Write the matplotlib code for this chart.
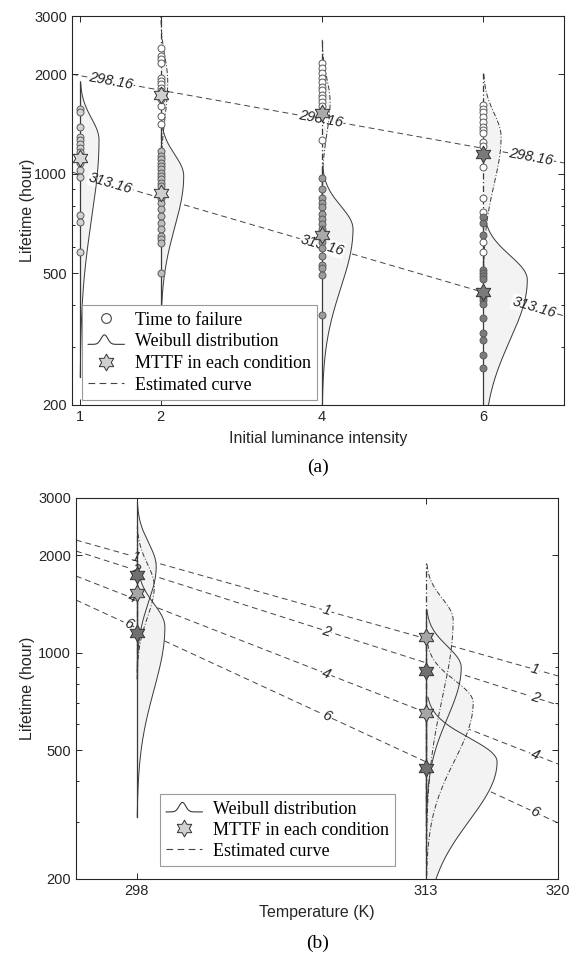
import numpy as np
import matplotlib
matplotlib.use("Agg")
import matplotlib.pyplot as plt
from matplotlib.path import Path
from matplotlib.lines import Line2D
from matplotlib.legend_handler import HandlerBase
from matplotlib.ticker import FixedLocator, FixedFormatter, NullFormatter

# ---------------- data: panel (a) ----------------
intensity_ticks = [1, 2, 4, 6]
ttf_I1_313 = [1570, 1540, 1390, 1290, 1265, 1230, 1200, 1165, 1080, 1025, 975, 750, 715, 580]
ttf_I2_298 = [2400, 2270, 2222, 2162, 1950, 1908, 1869, 1817, 1779, 1683, 1604, 1496, 1416]
ttf_I2_313 = [1171, 1131, 1107, 1077, 1054, 1032, 1004, 983, 963, 936, 917, 844, 816,
              782, 745, 710, 681, 649, 635, 618, 501]
ttf_I4_298 = [2162, 2087, 2016, 1950, 1895, 1830, 1790, 1729, 1694, 1647, 1604, 1265]
ttf_I4_313 = [970, 899, 844, 816, 793, 754, 729, 704, 681, 644, 622, 597, 564, 530, 519, 494, 374]
ttf_I6_298 = [1615, 1571, 1538, 1486, 1436, 1386, 1357, 1329, 1248, 1214, 1048, 844, 767, 622, 580]
ttf_I6_313 = [740, 710, 653, 512, 501, 491, 481, 424, 415, 404, 366, 330, 314, 283, 259]

mttf_a_I = [1, 2, 2, 4, 4, 6, 6]
mttf_a_L = [1117, 1731, 875, 1528, 653, 1150, 439]

# Weibull curves of panel (a): position, mode, peak height, lower/upper log-spread
dist_a_I = [1, 2, 4, 6, 2, 4, 6]
dist_a_temp = [313, 313, 313, 313, 298, 298, 298]
dist_a_mode = [1266, 985, 681, 478, 1900, 1650, 1293]
dist_a_peak = [0.235, 0.285, 0.384, 0.545, 0.087, 0.10, 0.22]
dist_a_slo = [0.55, 0.36, 0.41, 0.42, 0.25, 0.22, 0.33]
dist_a_shi = [0.15, 0.15, 0.16, 0.17, 0.17, 0.16, 0.165]

# estimated curves of panel (a)
curve_a_I = [0.9, 7.0]
curve_a_298 = [2000, 1079]
curve_a_313 = [1012, 372]

# ---------------- data: panel (b) ----------------
temp_ticks = [298.16, 313.16, 320]
temp_ticklabels = ["298", "313", "320"]
curve_b_T = [295, 320]
curve_b_labels = ["1", "2", "4", "6"]
curve_b_left = [2225, 2058, 1723, 1453]
curve_b_right = [847, 689, 453, 298]

dist_b_T = [313.16, 313.16, 313.16, 313.16, 298.16, 298.16, 298.16]
dist_b_I = [1, 2, 4, 6, 2, 4, 6]
dist_b_mode = [1262, 900, 700, 460, 1840, 1600, 1200]
dist_b_peak = [1.40, 1.82, 2.44, 3.68, 1.0, 0.9, 1.45]
dist_b_slo = [0.55, 0.36, 0.41, 0.42, 0.25, 0.22, 0.45]
dist_b_shi = [0.15, 0.15, 0.16, 0.17, 0.17, 0.16, 0.165]

mttf_b_T = [313.16, 313.16, 313.16, 313.16, 298.16, 298.16, 298.16]
mttf_b_L = [1117, 875, 653, 439, 1731, 1528, 1150]

ytick_vals = [200, 500, 1000, 2000, 3000]
yminor_vals = [300, 400, 600, 700, 800, 900]

# ---------------- style ----------------
SANS = "Liberation Sans"
SERIF = "Liberation Serif"
DARK = "#262626"
LINEC = "#3a3a3a"
FILLC = "#f3f3f3"
DASHDOT = (0, (5, 2, 1, 2))
DASHED = (0, (6, 4))

ang = np.pi / 2 + np.arange(12) * np.pi / 6
rad = np.where(np.arange(12) % 2 == 0, 1.0, 1 / np.sqrt(3))
verts = np.c_[rad * np.cos(ang), rad * np.sin(ang)]
verts = np.vstack([verts, verts[0]])
HEX = Path(verts, [Path.MOVETO] + [Path.LINETO] * 11 + [Path.CLOSEPOLY])

fig = plt.figure(figsize=(5.73, 9.57), dpi=100)
axA = fig.add_axes([72 / 573, 1 - 405 / 957, (564 - 72) / 573, (405 - 16) / 957])
axB = fig.add_axes([76 / 573, 1 - 879 / 957, (558 - 76) / 573, (879 - 498) / 957])


def style_axes(ax):
    ax.set_yscale("log")
    ax.set_ylim(200, 3000)
    ax.yaxis.set_major_locator(FixedLocator(ytick_vals))
    ax.yaxis.set_major_formatter(FixedFormatter([str(v) for v in ytick_vals]))
    ax.yaxis.set_minor_locator(FixedLocator(yminor_vals))
    ax.yaxis.set_minor_formatter(NullFormatter())
    ax.tick_params(which="both", direction="in", top=True, right=True, colors=DARK,
                   labelsize=10.5, width=0.7)
    ax.tick_params(which="major", length=4.5)
    ax.tick_params(which="minor", length=2.5)
    for lab in ax.get_xticklabels() + ax.get_yticklabels():
        lab.set_fontfamily(SANS)
    for sp in ax.spines.values():
        sp.set_color(DARK)
        sp.set_linewidth(0.8)
    ax.set_ylabel("Lifetime (hour)", fontsize=11.5, family=SANS, color=DARK, labelpad=4)


def draw_dist(ax, x0, mode, peak, slo, shi, ls):
    t_lo = max(mode * np.exp(-3.0 * slo), 200)
    t_hi = min(mode * np.exp(2.7 * shi), 3000)
    t = np.geomspace(t_lo, t_hi, 300)
    z = np.log(t / mode)
    s = np.where(z < 0, slo, shi)
    w = peak * np.exp(-0.5 * (z / s) ** 2)
    ax.fill_betweenx(t, x0, x0 + w, color=FILLC, lw=0, zorder=1.2)
    ax.plot(x0 + w, t, color=LINEC, lw=0.7, ls=ls, zorder=3)
    ax.plot([x0, x0], [t_lo, t_hi], color=LINEC, lw=0.9, ls=ls, zorder=3)


def inline_label(ax, xs, ys, x0, text):
    ly = np.exp(np.interp(x0, xs, np.log(ys)))
    p1 = ax.transData.transform((xs[0], ys[0]))
    p2 = ax.transData.transform((xs[-1], ys[-1]))
    a = np.degrees(np.arctan2(p2[1] - p1[1], p2[0] - p1[0]))
    ax.text(x0, ly, text, rotation=a, rotation_mode="anchor", ha="center", va="center",
            fontsize=10.5, style="italic", family=SANS, color="#222222", zorder=2,
            bbox=dict(fc="white", ec="none", pad=0.6))


# ---------------- panel (a) ----------------
style_axes(axA)
axA.set_xlim(0.9, 7.0)
axA.set_xticks(intensity_ticks)
axA.set_xticklabels([str(v) for v in intensity_ticks], family=SANS)
axA.set_xlabel("Initial luminance intensity", fontsize=11.5, family=SANS, color=DARK, labelpad=5)

for I, T, m, p, lo, hi in zip(dist_a_I, dist_a_temp, dist_a_mode, dist_a_peak, dist_a_slo, dist_a_shi):
    draw_dist(axA, I, m, p, lo, hi, "-" if T == 313 else DASHDOT)

axA.plot(curve_a_I, curve_a_298, color="#444444", lw=0.7, ls=DASHED, zorder=1)
axA.plot(curve_a_I, curve_a_313, color="#444444", lw=0.7, ls=DASHED, zorder=1)
for x0 in [1.38, 3.98, 6.59]:
    inline_label(axA, curve_a_I, curve_a_298, x0, "298.16")
for x0 in [1.38, 4.0, 6.63]:
    inline_label(axA, curve_a_I, curve_a_313, x0, "313.16")

circle_sets = [(1, ttf_I1_313, "#d2d2d2"), (2, ttf_I2_298, "#ffffff"), (2, ttf_I2_313, "#bdbdbd"),
               (4, ttf_I4_298, "#ffffff"), (4, ttf_I4_313, "#9c9c9c"),
               (6, ttf_I6_298, "#ffffff"), (6, ttf_I6_313, "#7c7c7c")]
for I, vals, fc in circle_sets:
    axA.plot([I] * len(vals), vals, ls="none", marker="o", ms=5.0, mfc=fc, mec="#5a5a5a",
             mew=0.7, zorder=4)

star_a_colors = ["#d8d8d8", "#cfcfcf", "#cfcfcf", "#a9a9a9", "#a9a9a9", "#7a7a7a", "#7a7a7a"]
for I, L, c in zip(mttf_a_I, mttf_a_L, star_a_colors):
    axA.plot([I], [L], ls="none", marker=HEX, ms=12, mfc=c, mec="#333333", mew=0.7, zorder=5)


class WeibullGlyph:
    pass


class HandlerWeibull(HandlerBase):
    def create_artists(self, legend, orig_handle, xdescent, ydescent, width, height, fontsize, trans):
        x = np.linspace(0, width, 60)
        y = height * 0.15 + height * 0.75 * np.exp(-((x - 0.45 * width) / (0.13 * width)) ** 2)
        ln = Line2D(x - xdescent, y - ydescent, color=LINEC, lw=0.8)
        ln.set_transform(trans)
        return [ln]


h_ttf = Line2D([], [], ls="none", marker="o", ms=7, mfc="white", mec="#444444", mew=0.8)
h_mttf = Line2D([], [], ls="none", marker=HEX, ms=12, mfc="#d0d0d0", mec="#333333", mew=0.7)
h_est = Line2D([], [], color="#444444", lw=0.8, ls=DASHED)
h_wb = WeibullGlyph()

legA = axA.legend([h_ttf, h_wb, h_mttf, h_est],
                  ["Time to failure", "Weibull distribution", "MTTF in each condition", "Estimated curve"],
                  handler_map={WeibullGlyph: HandlerWeibull()},
                  loc="lower left", bbox_to_anchor=(0.02, 0.013), borderaxespad=0,
                  prop={"family": SERIF, "size": 13}, fancybox=False, framealpha=1,
                  edgecolor="#9a9a9a", handlelength=2.0, handletextpad=0.6,
                  labelspacing=0.26, borderpad=0.35)
legA.get_frame().set_linewidth(0.8)
legA.set_zorder(6)

fig.text(318 / 573, 1 - 467 / 957, "(a)", ha="center", va="center", family=SERIF, fontsize=14)

# ---------------- panel (b) ----------------
style_axes(axB)
axB.set_xlim(295, 320)
axB.set_xticks(temp_ticks)
axB.set_xticklabels(temp_ticklabels, family=SANS)
axB.set_xlabel("Temperature (K)", fontsize=11.5, family=SANS, color=DARK, labelpad=5)

for lab, l0, l1 in zip(curve_b_labels, curve_b_left, curve_b_right):
    axB.plot(curve_b_T, [l0, l1], color="#444444", lw=0.7, ls=DASHED, zorder=1)

left_lab_T = [298.1, 298.05, 297.9, 297.7]
for lab, l0, l1, xl in zip(curve_b_labels, curve_b_left, curve_b_right, left_lab_T):
    for x0 in [xl, 308.0, 318.8]:
        inline_label(axB, curve_b_T, [l0, l1], x0, lab)

for T, I, m, p, lo, hi in zip(dist_b_T, dist_b_I, dist_b_mode, dist_b_peak, dist_b_slo, dist_b_shi):
    ls = "-" if I in (2, 6) else DASHDOT
    draw_dist(axB, T, m, p, lo, hi, ls)

star_b_colors = ["#a6a6a6", "#707070", "#a6a6a6", "#707070", "#707070", "#a6a6a6", "#707070"]
for T, L, c in zip(mttf_b_T, mttf_b_L, star_b_colors):
    axB.plot([T], [L], ls="none", marker=HEX, ms=12, mfc=c, mec="#333333", mew=0.7, zorder=5)

legB = axB.legend([h_wb, h_mttf, h_est],
                  ["Weibull distribution", "MTTF in each condition", "Estimated curve"],
                  handler_map={WeibullGlyph: HandlerWeibull()},
                  loc="lower left", bbox_to_anchor=(0.174, 0.034), borderaxespad=0,
                  prop={"family": SERIF, "size": 13}, fancybox=False, framealpha=1,
                  edgecolor="#9a9a9a", handlelength=2.0, handletextpad=0.6,
                  labelspacing=0.22, borderpad=0.35)
legB.get_frame().set_linewidth(0.8)
legB.set_zorder(6)

fig.text(318 / 573, 1 - 943 / 957, "(b)", ha="center", va="center", family=SERIF, fontsize=14)

axA.yaxis.set_label_coords(-(72 - 35) / 492, 0.5)
axB.yaxis.set_label_coords(-(76 - 35) / 482, 0.5)

fig.savefig("out.png", dpi=100, facecolor="white")
